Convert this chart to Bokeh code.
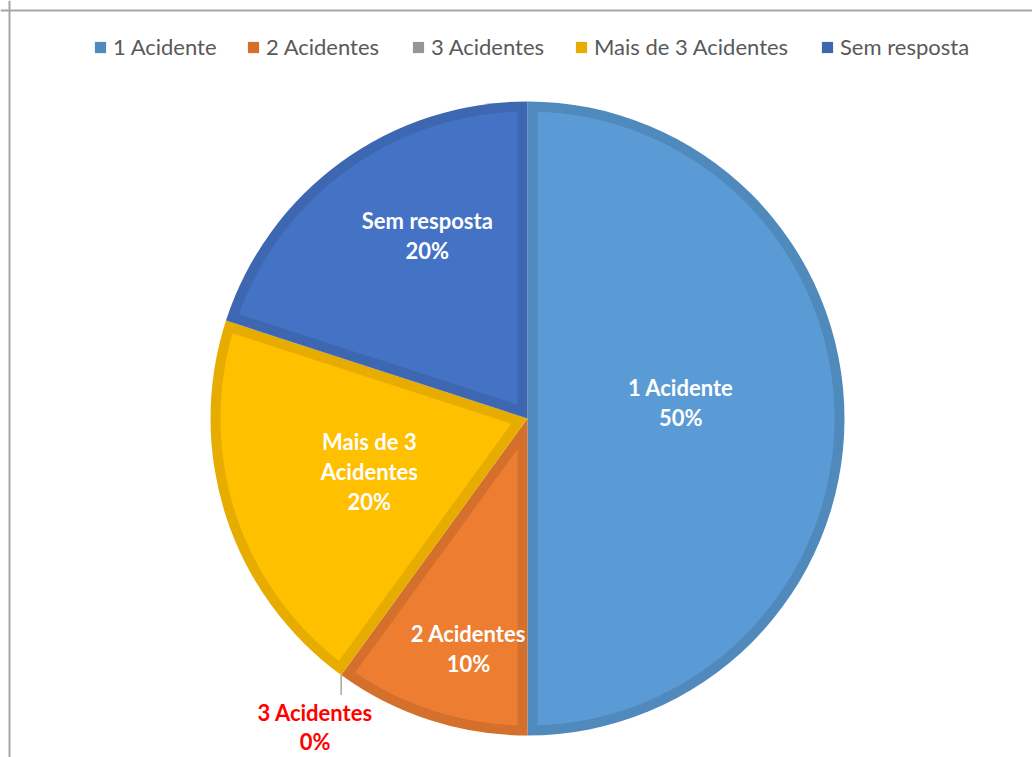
import math
import numpy as np
from bokeh.plotting import figure
from bokeh.models import ColumnDataSource, Legend, LegendItem, Span, Range1d
from bokeh.embed import file_html
from bokeh.resources import INLINE
from bokeh.core.properties import value

# ---------------- data ----------------
categories = ["1 Acidente", "2 Acidentes", "3 Acidentes", "Mais de 3 Acidentes", "Sem resposta"]
label_names = ["1 Acidente", "2 Acidentes", "3 Acidentes", "Mais de 3\nAcidentes", "Sem resposta"]
values = [50, 10, 0, 20, 20]

# ---------------- style ----------------
fill_colors = ["#5B9BD5", "#ED7D31", "#A5A5A5", "#FFC000", "#4472C4"]
edge_colors = ["#5089BC", "#D4702C", "#959595", "#E6AC00", "#3D67B1"]
label_r = [0.486, 0.749, 0.0, 0.526, 0.658]        # fraction of radius
label_dtheta = [6.0, 3.6, 0.0, 0.5, -7.3]          # degrees from slice middle
legend_x = [93, 246, 411, 574, 820]                # px within the canvas
FONT = "Lato"

W, H = 1032, 757
CX, CY = 527, 418          # pie centre, px from left / top of canvas
R = 317
D = 10

total = float(sum(values))
fracs = [v / total for v in values]
cum = np.concatenate([[0.0], np.cumsum(fracs)])
start = [math.radians(90 - 360 * c) for c in cum[:-1]]
end = [math.radians(90 - 360 * c) for c in cum[1:]]


def inset_polygon(ts, te, rad, d, n=160):
    a = (ts - te) / 2.0
    tm = (ts + te) / 2.0
    v = d / math.sin(a)
    V = (v * math.cos(tm), v * math.sin(tm))
    rin = rad - d
    t = math.sqrt(rin ** 2 - d ** 2)
    A = (t * math.cos(ts) + d * math.sin(ts), t * math.sin(ts) - d * math.cos(ts))
    B = (t * math.cos(te) - d * math.sin(te), t * math.sin(te) + d * math.cos(te))
    pa = math.atan2(A[1], A[0])
    pb = math.atan2(B[1], B[0])
    while pb > pa:
        pb -= 2 * math.pi
    arc = np.linspace(pa, pb, n)
    xs = [V[0]] + list(rin * np.cos(arc)) + [V[0]]
    ys = [V[1]] + list(rin * np.sin(arc)) + [V[1]]
    return xs, ys


pxs, pys = [], []
for i, f in enumerate(fracs):
    if f > 0:
        xs, ys = inset_polygon(start[i], end[i], R, D)
    else:
        xs, ys = [0.0], [0.0]
    pxs.append(xs)
    pys.append(ys)

wsrc = ColumnDataSource(dict(
    cat=categories, start=start, end=end,
    radius=[R if f > 0 else 0 for f in fracs],
    edge=edge_colors, fill=fill_colors, xs=pxs, ys=pys,
))

p = figure(width=W, height=H, output_backend="svg", toolbar_location=None,
           x_range=Range1d(-CX, W - CX), y_range=Range1d(-(H - CY), CY),
           min_border=0, background_fill_color="white", border_fill_color="white")
p.axis.visible = False
p.grid.visible = False
p.outline_line_color = None

wr = p.wedge(x=0, y=0, radius="radius", start_angle="start", end_angle="end",
             direction="clock", fill_color="edge", line_alpha=0, source=wsrc)
p.patches(xs="xs", ys="ys", fill_color="fill", line_alpha=0, source=wsrc)

# labels
lx, ly, lt = [], [], []
out_x, out_y, out_t = [], [], []
seg = dict(x0=[], y0=[], x1=[], y1=[])
for i, f in enumerate(fracs):
    pct = f"{round(f * 100)}%"
    txt = f"{label_names[i]}\n{pct}"
    if f > 0:
        mid = (start[i] + end[i]) / 2 + math.radians(label_dtheta[i])
        lx.append(label_r[i] * R * math.cos(mid))
        ly.append(label_r[i] * R * math.sin(mid))
        lt.append(txt)
    else:
        ex, ey = R * math.cos(start[i]), R * math.sin(start[i])
        seg["x0"].append(ex); seg["y0"].append(ey)
        seg["x1"].append(ex); seg["y1"].append(ey - 20)
        out_x.append(ex - 26); out_y.append(ey - 52); out_t.append(txt)

p.text(x=lx, y=ly, text=lt, text_align="center", text_baseline="middle",
       text_font=value(FONT), text_font_style="bold", text_font_size="22px",
       text_color="white", text_line_height=1.12)
p.segment(x0=seg["x0"], y0=seg["y0"], x1=seg["x1"], y1=seg["y1"],
          line_color="#A6A6A6", line_width=1.5)
p.text(x=out_x, y=out_y, text=out_t, text_align="center", text_baseline="middle",
       text_font=value(FONT), text_font_style="bold", text_font_size="22px",
       text_color="#FF0000", text_line_height=1.05)

# frame lines (top and left)
p.add_layout(Span(location=CY - 10, dimension="width", line_color="#A6A6A6", line_width=2))
p.add_layout(Span(location=-CX + 9, dimension="height", line_color="#A6A6A6", line_width=2))

# legend
for i, cat in enumerate(categories):
    leg = Legend(items=[LegendItem(label=cat, renderers=[wr], index=i)],
                 location=(legend_x[i], H - 60), orientation="horizontal",
                 glyph_width=14, glyph_height=14, label_standoff=6,
                 padding=0, margin=0, border_line_alpha=0, background_fill_alpha=0,
                 label_text_font=FONT, label_text_font_size="22px",
                 label_text_color="#595959", label_height=14)
    p.add_layout(leg)

open("out.html", "w").write(file_html(p, INLINE))
